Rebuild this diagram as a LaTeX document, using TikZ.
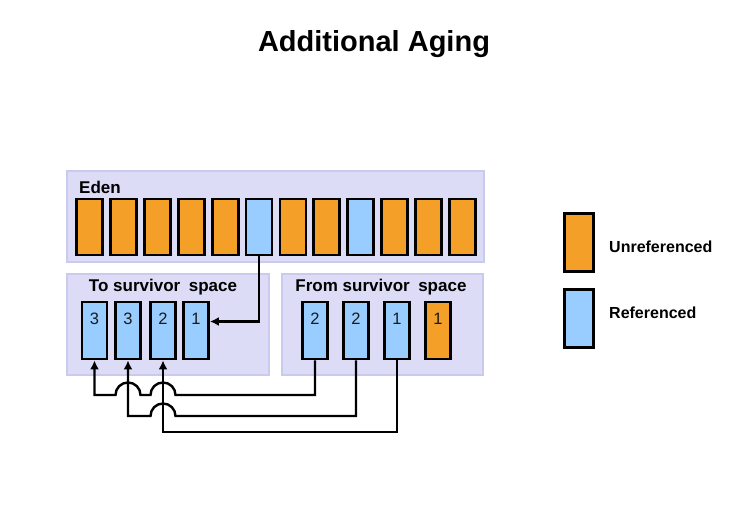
\documentclass[tikz,border=0pt]{standalone}
\usepackage{fontspec}
\setmainfont{Liberation Sans}
\usetikzlibrary{calc,arrows.meta}
\definecolor{orng}{RGB}{244,160,40}
\definecolor{lblue}{RGB}{153,204,255}
\definecolor{panelfill}{RGB}{220,220,247}
\definecolor{paneldraw}{RGB}{202,202,238}
\tikzset{
  panel/.style={draw=paneldraw,fill=panelfill,line width=1.5pt,minimum width=#1,minimum height=101pt,inner sep=0pt},
  cell/.style={draw=black,line width=2.8pt,minimum width=25pt,minimum height=56pt,inner sep=0pt},
  ucell/.style={cell,fill=orng},
  rcell/.style={cell,fill=lblue},
  cellnum/.style={font=\fontsize{16.5}{18}\selectfont,text=black!90,inner sep=0pt},
  plabel/.style={font=\bfseries\fontsize{17}{20}\selectfont,inner sep=0pt},
  linkline/.style={draw=black,line width=2.4pt,arrows={-Latex[length=9pt,width=9pt]}},
  legtext/.style={font=\bfseries\fontsize{16}{19}\selectfont,anchor=west,inner sep=0pt}
}
\begin{document}
\begin{tikzpicture}[x=1pt,y=1pt]
\useasboundingbox (0,0) rectangle (746,532);
\fill[white] (0,0) rectangle (746,532);
\node[font=\bfseries\fontsize{29}{34}\selectfont] (title) at (374,488) {Additional Aging};
% Eden
\node[panel=417pt,minimum height=91pt] (eden) at (275.5,315.5) {};
\node[plabel,anchor=west] (edenlbl) at (79,345) {Eden};
\foreach \i/\s in {1/ucell,2/ucell,3/ucell,4/ucell,5/ucell,6/rcell,7/ucell,8/ucell,9/rcell,10/ucell,11/ucell,12/ucell}{
  \node[\s,minimum width=26pt] (e\i) at ({89.5+33.9*(\i-1)},305) {};
}
% To survivor
\node[panel=202pt] (tosp) at (168,207.5) {};
\node[plabel] (tolbl) at (163,245) {To survivor\hspace{0.5em}space};
\foreach \i/\x/\n in {1/94.5/3,2/128/3,3/163/2,4/196/1}{
  \node[rcell,minimum height=57pt] (t\i) at (\x,201.5) {};
  \node[cellnum] (tn\i) at (\x,213) {\n};
}
% From survivor
\node[panel=201pt] (fromsp) at (382.5,207.5) {};
\node[plabel] (fromlbl) at (381,245) {From survivor\hspace{0.5em}space};
\foreach \i/\x/\n/\s in {1/315/2/rcell,2/356/2/rcell,3/397/1/rcell,4/438/1/ucell}{
  \node[\s,minimum height=57pt] (f\i) at (\x,201.5) {};
  \node[cellnum] (fn\i) at (\x,213) {\n};
}
% Eden -> To
\path[linkline] (e6.south) |- ([yshift=9pt]t4.east);
% bottom connectors
\coordinate (yA) at (0,137);
\coordinate (yB) at (0,116);
\coordinate (yC) at (0,100);
\path[linkline] (f1.south) -- (f1.south |- yA) -- ($(t3.south |- yA)+(12.5,0)$)
  arc[start angle=0,end angle=180,radius=12.5] -- ($(t2.south |- yA)+(12.5,0)$)
  arc[start angle=0,end angle=180,radius=12.5] -- (t1.south |- yA) -- (t1.south);
\path[linkline] (f2.south) -- (f2.south |- yB) -- ($(t3.south |- yB)+(12.5,0)$)
  arc[start angle=0,end angle=180,radius=12.5] -- (t2.south |- yB) -- (t2.south);
\path[linkline] (f3.south) -- (f3.south |- yC) -- (t3.south |- yC) -- (t3.south);
% legend
\node[ucell,minimum width=29pt,minimum height=58pt] (lu) at (579,289.5) {};
\node[rcell,minimum width=29pt,minimum height=58pt] (lr) at (579,213.5) {};
\node[legtext] (lut) at (609,285) {Unreferenced};
\node[legtext] (lrt) at (609,219) {Referenced};
\end{tikzpicture}
\end{document}
